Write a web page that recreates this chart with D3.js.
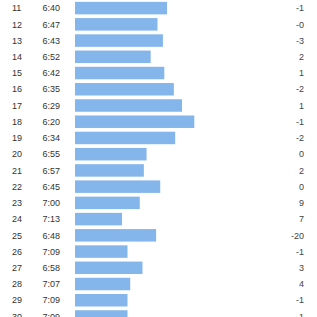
<!DOCTYPE html>
<meta charset="utf-8">
<style>
body { margin: 0; background: #fff; }
text { font-family: "Helvetica Neue", Helvetica, "Liberation Sans", Arial, sans-serif; font-size: 9px; fill: #333; }
.bar { fill: #85b6eb; }
.diff { fill: #444; }
</style>
<svg width="317" height="317"></svg>
<script src="https://d3js.org/d3.v7.min.js"></script>
<script>

var days = [11, 12, 13, 14, 15, 16, 17, 18, 19, 20, 21, 22, 23, 24, 25, 26, 27, 28, 29, 30];
var paces = ["6:40", "6:47", "6:43", "6:52", "6:42", "6:35", "6:29", "6:20", "6:34", "6:55",
             "6:57", "6:45", "7:00", "7:13", "6:48", "7:09", "6:58", "7:07", "7:09", "7:09"];
var diffs = ["-1", "-0", "-3", "2", "1", "-2", "1", "-1", "-2", "0",
             "2", "0", "9", "7", "-20", "-1", "3", "4", "-1", "-1"];

function seconds(p) {
  var a = p.split(":");
  return +a[0] * 60 + +a[1];
}

var rows = days.map(function(d, i) { return { day: d, pace: paces[i], diff: diffs[i] }; });

var svg = d3.select("svg");

var y = d3.scaleBand()
    .domain(days)
    .range([0, 324.6])
    .paddingInner(0.23)
    .paddingOuter(0.115);

// faster pace -> longer bar
var x = d3.scaleLinear()
    .domain([467.5, 380])
    .range([75, 194.3]);

var row = svg.append("g")
  .selectAll("g")
  .data(rows)
  .enter().append("g")
    .attr("transform", function(d) { return "translate(0," + y(d.day) + ")"; });

row.append("rect")
    .attr("class", "bar")
    .attr("x", x.range()[0])
    .attr("height", y.bandwidth())
    .attr("width", function(d) { return x(seconds(d.pace)) - x.range()[0]; });

var mid = y.bandwidth() / 2 + 3.2;

row.append("text")
    .attr("x", 12)
    .attr("y", mid)
    .text(function(d) { return d.day; });

row.append("text")
    .attr("x", 42.5)
    .attr("y", mid)
    .text(function(d) { return d.pace; });

row.append("text")
    .attr("class", "diff")
    .attr("x", 304)
    .attr("y", mid)
    .attr("text-anchor", "end")
    .text(function(d) { return d.diff; });

</script>
